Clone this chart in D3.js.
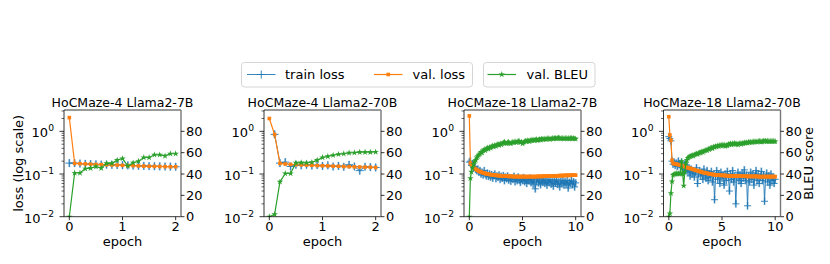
<!DOCTYPE html>
<html><head><meta charset="utf-8">
<script src="https://cdn.jsdelivr.net/npm/d3@7"></script>
<style>
body{margin:0;background:#fff}
svg{display:block}
text{font-family:"DejaVu Sans",sans-serif;fill:#000}
</style>
</head><body>
<svg id="c" width="830" height="264"></svg>
<script>
// ---------------- data ----------------
const titles = ["HoCMaze-4 Llama2-7B", "HoCMaze-4 Llama2-70B", "HoCMaze-18 Llama2-7B", "HoCMaze-18 Llama2-70B"];
const legendLabels = ["train loss", "val. loss", "val. BLEU"];
const xTicksShort = [0, 1, 2];
const xTicksLong = [0, 5, 10];
const bleuTicks = [0, 20, 40, 60, 80];
const lossTicks = [0.01, 0.1, 1];

// epochs (0 .. 2 every 0.1) for the HoCMaze-4 runs
const epochsShort = [0,0.1,0.2,0.3,0.4,0.5,0.6,0.7,0.8,0.9,1.0,1.1,1.2,1.3,1.4,1.5,1.6,1.7,1.8,1.9,2.0];
// epochs (0 .. 10 every 0.1) for the HoCMaze-18 runs
const epochsLong = d3.range(101).map(i => i / 10);

// HoCMaze-4 Llama2-7B
const p1Train = [0.18,0.18,0.176,0.173,0.171,0.169,0.167,0.166,0.164,0.162,0.161,0.159,0.158,0.156,0.155,0.153,0.152,0.151,0.15,0.149,0.148];
const p1Val   = [2.1,0.177,0.175,0.172,0.17,0.168,0.166,0.165,0.163,0.162,0.16,0.158,0.157,0.155,0.153,0.152,0.151,0.15,0.149,0.148,0.148];
const p1Bleu  = [0,41,41,45,45.5,47,45.5,50,50,53,54.5,47.5,50.5,52,55.5,55.5,58,58,57,59,59];

// HoCMaze-4 Llama2-70B (no train loss logged at epoch 0)
const p2Train = [null,0.85,0.18,0.19,0.15,0.165,0.16,0.165,0.158,0.162,0.155,0.16,0.15,0.155,0.148,0.165,0.15,0.12,0.148,0.145,0.142];
const p2Val   = [2.0,0.84,0.177,0.172,0.168,0.166,0.164,0.162,0.16,0.158,0.156,0.155,0.153,0.152,0.15,0.149,0.147,0.146,0.145,0.144,0.142];
const p2Bleu  = [0,2.2,32.7,40.5,40.5,50.4,50.7,50.5,51,53,55.5,56.5,57.6,58.5,59,59.8,60,60.5,60.5,60.5,60.7];

// HoCMaze-18 Llama2-7B
const p3Train = [0.19,0.2,0.16,0.17,0.14,0.15,0.13,0.12,0.13,0.11,0.12,
  0.1,0.11,0.095,0.12,0.1,0.09,0.105,0.088,0.1,0.085,
  0.097,0.08,0.092,0.1,0.078,0.09,0.083,0.095,0.075,0.088,
  0.08,0.092,0.07,0.085,0.078,0.09,0.072,0.083,0.068,0.08,
  0.075,0.088,0.066,0.079,0.07,0.085,0.072,0.064,0.078,0.07,
  0.082,0.066,0.074,0.06,0.076,0.069,0.08,0.063,0.071,0.058,
  0.075,0.045,0.066,0.078,0.062,0.07,0.056,0.072,0.064,0.076,
  0.06,0.068,0.055,0.071,0.063,0.074,0.058,0.066,0.052,0.07,
  0.061,0.073,0.057,0.065,0.05,0.068,0.06,0.072,0.055,0.066,
  0.058,0.07,0.047,0.064,0.06,0.071,0.056,0.066,0.05,0.062];
const p3Val = [2.3,0.18,0.165,0.152,0.143,0.136,0.13,0.125,0.121,0.117,0.114,
  0.111,0.109,0.107,0.105,0.103,0.101,0.1,0.099,0.098,0.097,
  0.096,0.095,0.095,0.094,0.093,0.093,0.092,0.092,0.091,0.091,
  0.09,0.09,0.09,0.089,0.089,0.089,0.088,0.088,0.088,0.088,
  0.088,0.087,0.087,0.087,0.087,0.087,0.087,0.087,0.087,0.087,
  0.087,0.087,0.087,0.087,0.087,0.087,0.087,0.087,0.087,0.087,
  0.087,0.087,0.087,0.088,0.088,0.088,0.088,0.088,0.088,0.089,
  0.089,0.089,0.089,0.089,0.09,0.09,0.09,0.09,0.09,0.091,
  0.091,0.091,0.091,0.091,0.092,0.092,0.092,0.092,0.092,0.093,
  0.093,0.093,0.093,0.093,0.093,0.094,0.094,0.094,0.094,0.094];
const p3Bleu = [0,36,42,46,49,52,53,55.5,56.5,58,59,
  60.5,60,62,63,62,63.5,64.5,63.5,65,64.5,
  65.5,66.5,65.5,67,66,67.5,68,67,68.5,67.5,
  68.5,69.5,70,69,68.5,69.5,70,69,68.5,69.5,
  70,69.5,70.5,69.5,70,71,70.5,69.5,70,68.5,
  69.5,70.5,71,70.5,71.5,70.5,71,72,71.5,72,
  71.5,72,72.5,71.5,72,72.5,72,73,72.5,72.5,
  73,72.5,73,73.5,73,72.5,73,73.5,73,73.5,
  73.5,73,73.5,74,73.5,73,73.5,73.5,73,73.5,
  73.5,73,73.5,73,73.5,73.5,73,73.5,73,73];

// HoCMaze-18 Llama2-70B
const p4Train = [0.75,0.68,0.6,0.2,0.17,0.19,0.16,0.18,0.15,0.2,0.17,
  0.14,0.19,0.16,0.13,0.17,0.12,0.15,0.11,0.14,0.09,
  0.13,0.1,0.12,0.085,0.11,0.14,0.06,0.1,0.12,0.09,
  0.11,0.075,0.13,0.095,0.08,0.12,0.07,0.1,0.085,0.115,
  0.065,0.095,0.025,0.09,0.12,0.075,0.1,0.06,0.11,0.08,
  0.095,0.055,0.1,0.07,0.115,0.085,0.04,0.1,0.075,0.12,
  0.065,0.09,0.02,0.085,0.11,0.07,0.095,0.06,0.105,0.08,
  0.125,0.07,0.095,0.018,0.09,0.065,0.11,0.075,0.1,0.055,
  0.09,0.12,0.07,0.1,0.06,0.085,0.115,0.07,0.095,0.023,
  0.08,0.105,0.065,0.09,0.055,0.1,0.07,0.085,0.06,0.075];
const p4Val = [2.2,0.82,0.62,0.21,0.178,0.175,0.172,0.17,0.168,0.166,0.164,
  0.161,0.158,0.155,0.152,0.149,0.146,0.143,0.14,0.138,0.136,
  0.133,0.13,0.128,0.126,0.123,0.121,0.119,0.117,0.115,0.113,
  0.111,0.109,0.108,0.106,0.105,0.104,0.102,0.101,0.1,0.099,
  0.098,0.097,0.096,0.096,0.095,0.095,0.094,0.094,0.093,0.093,
  0.093,0.092,0.092,0.092,0.091,0.091,0.091,0.091,0.09,0.09,
  0.09,0.09,0.09,0.09,0.089,0.089,0.089,0.089,0.089,0.089,
  0.089,0.089,0.088,0.088,0.088,0.088,0.088,0.088,0.088,0.088,
  0.088,0.088,0.088,0.087,0.087,0.087,0.087,0.087,0.087,0.087,
  0.087,0.087,0.087,0.087,0.087,0.087,0.087,0.087,0.087,0.087];
const p4Bleu = [0,3,22,33,39,40,40,40.5,40,40.5,40,
  41,52,40,29,42,50,53,55,56,56.5,
  57,57.5,57,58,58.5,59,58.5,59.5,60,60,
  61,60.5,61.5,62,62.5,62,63.5,63,64,64.5,
  64,65.5,65,66,65.5,66.5,66,67,66.5,67.5,
  66.5,67.5,66,67,66.5,68,67.5,68.5,67.5,68.5,
  68,69,68,68.5,67.5,68.5,69,68,69,68.5,
  69.5,69,69.5,69,70,69.5,70,69.5,70,70.5,
  70,70.5,70,70.5,71,70.5,70,70.5,71,70.5,
  71,70.5,71,70.5,70.5,71,70.5,71,70.5,70.5];

// train-loss spread (half width, in decades) shown as error bars
const trainSpread = [0.09, 0.09, 0.09, 0.09];

const panels = [
  {title: titles[0], epochs: epochsShort, train: p1Train, val: p1Val, bleu: p1Bleu, xmax: 2, xticks: xTicksShort},
  {title: titles[1], epochs: epochsShort, train: p2Train, val: p2Val, bleu: p2Bleu, xmax: 2, xticks: xTicksShort},
  {title: titles[2], epochs: epochsLong,  train: p3Train, val: p3Val, bleu: p3Bleu, xmax: 10, xticks: xTicksLong},
  {title: titles[3], epochs: epochsLong,  train: p4Train, val: p4Val, bleu: p4Bleu, xmax: 10, xticks: xTicksLong}
];

// ---------------- drawing ----------------
const C = {blue: "#1f77b4", orange: "#ff7f0e", green: "#2ca02c"};
const svg = d3.select("#c");
const lefts = [64, 264, 464, 663.5];
const TOP = 110, W = 117, H = 106.7;
const FS = 13;

const plusPath = s => `M${-s},0H${s}M0,${-s}V${s}`;
const star = d3.symbol().type(d3.symbolStar).size(13)();

panels.forEach((p, i) => {
  const g = svg.append("g").attr("transform", `translate(${lefts[i]},${TOP})`);
  const pad = p.xmax * 0.05;
  const x = d3.scaleLinear().domain([-pad, p.xmax + pad]).range([0, W]);
  const yL = d3.scaleLog().domain([0.01, Math.pow(10, 0.5)]).range([H, 0]);
  const yR = d3.scaleLinear().domain([0, 100]).range([H, 0]);

  const clipId = "clip" + i;
  g.append("clipPath").attr("id", clipId).append("rect").attr("x", 0).attr("y", 0).attr("width", W).attr("height", H);
  const plot = g.append("g").attr("clip-path", `url(#${clipId})`);

  const trainPts = p.epochs.map((e, k) => [e, p.train[k]]).filter(d => d[1] != null);
  const valPts = p.epochs.map((e, k) => [e, p.val[k]]);
  const bleuPts = p.epochs.map((e, k) => [e, p.bleu[k]]);
  const sp = Math.pow(10, trainSpread[i]);

  // train error bars
  plot.append("g").selectAll("line").data(trainPts).join("line")
    .attr("x1", d => x(d[0])).attr("x2", d => x(d[0]))
    .attr("y1", d => yL(d[1] * sp)).attr("y2", d => yL(d[1] / sp))
    .attr("stroke", C.blue).attr("stroke-opacity", 0.4).attr("stroke-width", 2);
  // train line
  plot.append("path").datum(trainPts)
    .attr("d", d3.line().x(d => x(d[0])).y(d => yL(d[1])))
    .attr("fill", "none").attr("stroke", C.blue).attr("stroke-width", 0.9);
  plot.append("g").selectAll("path").data(trainPts).join("path")
    .attr("transform", d => `translate(${x(d[0])},${yL(d[1])})`)
    .attr("d", plusPath(i < 2 ? 4 : 3.5)).attr("stroke", C.blue).attr("stroke-width", 0.9).attr("fill", "none");

  // val loss
  plot.append("path").datum(valPts)
    .attr("d", d3.line().x(d => x(d[0])).y(d => yL(d[1])))
    .attr("fill", "none").attr("stroke", C.orange).attr("stroke-width", 1.2);
  plot.append("g").selectAll("rect").data(valPts).join("rect")
    .attr("x", d => x(d[0]) - 1.8).attr("y", d => yL(d[1]) - 1.8)
    .attr("width", 3.6).attr("height", 3.6).attr("fill", C.orange);

  // BLEU (twin axis)
  plot.append("path").datum(bleuPts)
    .attr("d", d3.line().x(d => x(d[0])).y(d => yR(d[1])))
    .attr("fill", "none").attr("stroke", C.green).attr("stroke-width", 1.2);
  plot.append("g").selectAll("path").data(bleuPts).join("path")
    .attr("transform", d => `translate(${x(d[0])},${yR(d[1])})`)
    .attr("d", star).attr("fill", C.green);

  // spines
  g.append("path").attr("d", `M0,0V${H}H${W}`).attr("fill", "none").attr("stroke", "#000").attr("stroke-width", 0.8);
  g.append("line").attr("x1", 0).attr("x2", W).attr("y1", 0).attr("y2", 0).attr("stroke", "#000").attr("stroke-width", 0.8);
  g.append("line").attr("x1", W).attr("x2", W).attr("y1", 0).attr("y2", H).attr("stroke", "#777").attr("stroke-width", 1.4);

  // left log ticks
  const minors = [];
  [0.01, 0.1, 1].forEach(b => { for (let m = 2; m <= 9; m++) { const v = b * m; if (v <= Math.pow(10, 0.5)) minors.push(v); } });
  g.append("g").selectAll("line").data(minors).join("line")
    .attr("x1", -2.5).attr("x2", 0).attr("y1", d => yL(d)).attr("y2", d => yL(d))
    .attr("stroke", "#000").attr("stroke-width", 0.6);
  g.append("g").selectAll("line").data(lossTicks).join("line")
    .attr("x1", -4.5).attr("x2", 0).attr("y1", d => yL(d)).attr("y2", d => yL(d))
    .attr("stroke", "#000").attr("stroke-width", 0.8);
  lossTicks.forEach(v => {
    const e = Math.round(Math.log10(v));
    const t = g.append("text").attr("x", -10).attr("y", yL(v) + 6).attr("text-anchor", "end").attr("font-size", FS);
    t.append("tspan").text("10");
    t.append("tspan").attr("dy", -6).attr("font-size", 9.2).text(e === 0 ? "0" : "\u2212" + (-e));
  });

  // right BLEU ticks
  g.append("g").selectAll("line").data(bleuTicks).join("line")
    .attr("x1", W).attr("x2", W + 3.5).attr("y1", d => yR(d)).attr("y2", d => yR(d))
    .attr("stroke", "#000").attr("stroke-width", 0.8);
  g.append("g").selectAll("text").data(bleuTicks).join("text")
    .attr("x", W + 5).attr("y", d => yR(d) + 4.7).attr("font-size", FS).text(d => d);

  // x ticks
  g.append("g").selectAll("line").data(p.xticks).join("line")
    .attr("x1", d => x(d)).attr("x2", d => x(d)).attr("y1", H).attr("y2", H + 3.5)
    .attr("stroke", "#000").attr("stroke-width", 0.8);
  g.append("g").selectAll("text").data(p.xticks).join("text")
    .attr("x", d => x(d)).attr("y", H + 14.3).attr("text-anchor", "middle").attr("font-size", FS).text(d => d);

  g.append("text").attr("x", W / 2).attr("y", H + 28.8).attr("text-anchor", "middle").attr("font-size", FS).text("epoch");
  g.append("text").attr("x", W / 2).attr("y", -3.5).attr("text-anchor", "middle").attr("font-size", 12.5).text(p.title);

  if (i === 0) {
    g.append("text").attr("transform", `translate(${23 - lefts[0]},${H / 2}) rotate(-90)`)
      .attr("text-anchor", "middle").attr("font-size", FS).text("loss (log scale)");
  }
  if (i === 3) {
    g.append("text").attr("transform", `translate(${813 - lefts[3]},${H / 2}) rotate(-90)`)
      .attr("text-anchor", "middle").attr("font-size", FS).text("BLEU score");
  }
});

// ---------------- legends ----------------
const lg = svg.append("g");
lg.append("rect").attr("x", 241.5).attr("y", 62.5).attr("width", 231).attr("height", 24.5).attr("rx", 3)
  .attr("fill", "#fff").attr("stroke", "#d0d0d0").attr("stroke-width", 0.9);
lg.append("rect").attr("x", 483.5).attr("y", 62.5).attr("width", 111.5).attr("height", 24.5).attr("rx", 3)
  .attr("fill", "#fff").attr("stroke", "#d0d0d0").attr("stroke-width", 0.9);
const LY = 74.5;
const entries = [
  {x0: 247, col: C.blue, mark: "plus", label: legendLabels[0], tx: 285},
  {x0: 374, col: C.orange, mark: "sq", label: legendLabels[1], tx: 412.5},
  {x0: 487.5, col: C.green, mark: "star", label: legendLabels[2], tx: 526.5}
];
entries.forEach(e => {
  lg.append("line").attr("x1", e.x0).attr("x2", e.x0 + 28.5).attr("y1", LY).attr("y2", LY)
    .attr("stroke", e.col).attr("stroke-width", e.mark === "plus" ? 0.9 : 1.2);
  const cx = e.x0 + 14.25;
  if (e.mark === "plus") lg.append("path").attr("d", plusPath(4)).attr("transform", `translate(${cx},${LY})`).attr("stroke", e.col).attr("stroke-width", 0.9);
  if (e.mark === "sq") lg.append("rect").attr("x", cx - 1.8).attr("y", LY - 1.8).attr("width", 3.6).attr("height", 3.6).attr("fill", e.col);
  if (e.mark === "star") lg.append("path").attr("d", star).attr("transform", `translate(${cx},${LY})`).attr("fill", e.col);
  lg.append("text").attr("x", e.tx).attr("y", LY + 4.8).attr("font-size", FS).text(e.label);
});
</script>
</body></html>
